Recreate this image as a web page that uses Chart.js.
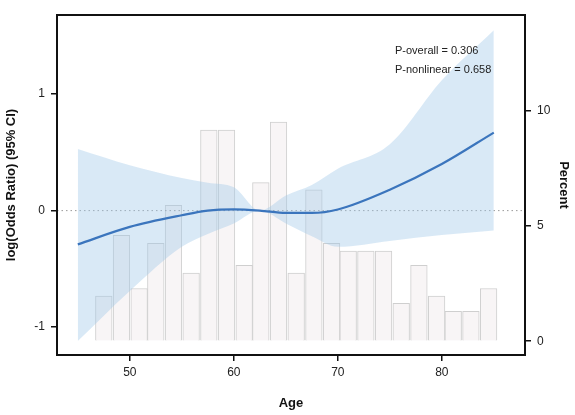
<!DOCTYPE html>
<html>
<head>
<meta charset="utf-8">
<script src="https://cdn.jsdelivr.net/npm/chart.js@4"></script>
<style>
  html,body{margin:0;padding:0;background:#fff;}
  #wrap{width:575px;height:415px;}
</style>
</head>
<body>
<div id="wrap"><canvas id="c"></canvas></div>
<script>
const binCenters = [47.5,49.2,50.9,52.5,54.2,55.9,57.6,59.3,61.0,62.6,64.3,66.0,67.7,69.4,71.0,72.7,74.4,76.1,77.8,79.5,81.1,82.8,84.5];
const binPercent = [1.96,4.6,2.29,4.25,5.9,2.96,9.17,9.17,3.29,6.89,9.52,2.96,6.57,4.25,3.91,3.91,3.91,1.64,3.29,1.96,1.30,1.30,2.29];

const curveAge = [45,50,55,57.5,60,62.5,65,67.5,70,75,80,85];
const curveFit = [-0.29,-0.14,-0.04,0.0,0.01,0.0,-0.02,-0.02,0.01,0.18,0.40,0.67];
const ciUpper  = [0.53,0.39,0.28,0.24,0.20,0.0,0.13,0.22,0.36,0.57,1.12,1.55];
const ciLower  = [-1.12,-0.69,-0.31,-0.2,-0.11,0.0,-0.11,-0.22,-0.31,-0.26,-0.21,-0.17];

const annotations = ["P-overall = 0.306", "P-nonlinear = 0.658"];

const pts = (xs, ys) => xs.map((x,i)=>({x, y:ys[i]}));

const frame = {
  id:"frame",
  afterDraw(chart){
    const {ctx, chartArea:a} = chart;
    ctx.save();
    ctx.strokeStyle = "#111";
    ctx.lineWidth = 2;
    ctx.strokeRect(a.left, a.top, a.right-a.left, a.bottom-a.top);
    ctx.fillStyle = "#222";
    ctx.font = "11px 'Liberation Sans', Arial";
    const x = chart.scales.x.getPixelForValue(75.5);
    ctx.fillText(annotations[0], x, 54);
    ctx.fillText(annotations[1], x, 73);
    ctx.restore();
  }
};

const tickFont = {family:"'Liberation Sans', Arial", size:12};
const titleFont = {family:"'Liberation Sans', Arial", size:13, weight:"bold"};

new Chart(document.getElementById("c"), {
  type:"bar",
  data:{
    datasets:[
      {
        type:"line", label:"fit", data:pts(curveAge, curveFit),
        borderColor:"#3b75bd", borderWidth:2.2, pointRadius:0,
        cubicInterpolationMode:"monotone", yAxisID:"y", order:1
      },
      {
        type:"line", label:"upper", data:pts(curveAge, ciUpper),
        borderWidth:0, pointRadius:0, cubicInterpolationMode:"monotone",
        yAxisID:"y", order:2, fill:false
      },
      {
        type:"line", label:"lower", data:pts(curveAge, ciLower),
        borderWidth:0, pointRadius:0, cubicInterpolationMode:"monotone",
        backgroundColor:"rgba(160,200,232,0.4)",
        yAxisID:"y", order:2, fill:"-1"
      },
      {
        type:"line", label:"zero", data:[{x:43,y:0},{x:88,y:0}],
        borderColor:"#999", borderWidth:1, borderDash:[1.5,3], pointRadius:0,
        yAxisID:"y", order:2
      },
      {
        type:"bar", label:"percent", data:pts(binCenters, binPercent),
        backgroundColor:"#f8f5f6", borderColor:"#cfcfcf", borderWidth:1,
        barPercentage:1, categoryPercentage:1, yAxisID:"y2", order:3
      }
    ]
  },
  options:{
    responsive:true, maintainAspectRatio:false, animation:false,
    layout:{padding:{top:15, left:0, right:0, bottom:0}},
    plugins:{legend:{display:false}, tooltip:{enabled:false}},
    scales:{
      x:{
        type:"linear", min:43, max:88, offset:false,
        afterBuildTicks:s=>{ s.ticks=[50,60,70,80].map(v=>({value:v})); },
        grid:{drawOnChartArea:false, offset:false, tickLength:6, color:"#111", lineWidth:1.5},
        border:{color:"#111", width:2},
        ticks:{color:"#222", font:tickFont, padding:4},
        title:{display:true, text:"Age", color:"#111", font:titleFont, padding:{top:6}},
        afterFit:s=>{ s.height = 60; }
      },
      y:{
        type:"linear", position:"left", min:-1.24, max:1.68,
        afterBuildTicks:s=>{ s.ticks=[-1,0,1].map(v=>({value:v})); },
        grid:{drawOnChartArea:false, tickLength:6, color:"#111", lineWidth:1.5},
        border:{color:"#111", width:2},
        ticks:{color:"#222", font:tickFont, padding:6},
        title:{display:true, text:"log(Odds Ratio) (95% CI)", color:"#111", font:titleFont},
        afterFit:s=>{ s.width = 57; }
      },
      y2:{
        type:"linear", position:"right", min:-0.6, max:14.17,
        afterBuildTicks:s=>{ s.ticks=[0,5,10].map(v=>({value:v})); },
        grid:{drawOnChartArea:false, tickLength:6, color:"#111", lineWidth:1.5},
        border:{color:"#111", width:2},
        ticks:{color:"#222", font:tickFont, padding:6},
        title:{display:true, text:"Percent", color:"#111", font:titleFont},
        afterFit:s=>{ s.width = 50; }
      }
    }
  },
  plugins:[frame]
});
</script>
</body>
</html>
